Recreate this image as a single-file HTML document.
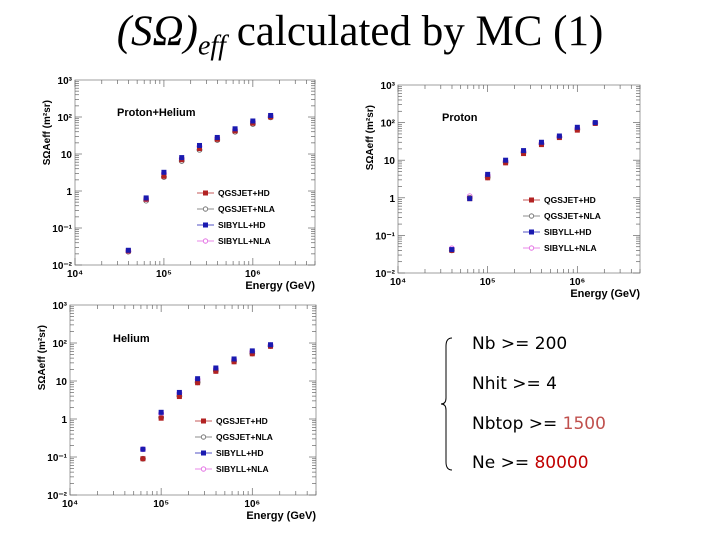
<!DOCTYPE html>
<html><head><meta charset="utf-8"><style>
body{margin:0;background:#fff;width:720px;height:540px;overflow:hidden;position:relative;font-family:"Liberation Sans",sans-serif}
#title{position:absolute;left:0;width:720px;top:7px;text-align:center;font-family:"Liberation Serif",serif;font-size:43px;white-space:nowrap}
.cut{position:absolute;left:472px;font-size:17px;font-family:"DejaVu Sans","Liberation Sans",sans-serif}
</style></head><body>
<div id="title"><i>(SΩ)<sub style="font-size:28px">eff</sub></i> calculated by MC (1)</div>
<svg id="svg" width="720" height="540" style="position:absolute;left:0;top:0"></svg>
<svg width="720" height="540" style="position:absolute;left:0;top:0"><path d="M452 338 Q446 338 446 346 L446 398 Q446 404 441 404 Q446 404 446 410 L446 462 Q446 470 452 470" fill="none" stroke="#000" stroke-width="1"/></svg>
<div class="cut" style="top:334px">Nb &gt;= 200</div>
<div class="cut" style="top:374px">Nhit &gt;= 4</div>
<div class="cut" style="top:414px">Nbtop &gt;= <span style="color:#c0504d">1500</span></div>
<div class="cut" style="top:453px">Ne &gt;= <span style="color:#c00000">80000</span></div>
<script>
const seriesNames=["QGSJET+HD","QGSJET+NLA","SIBYLL+HD","SIBYLL+NLA"];
const yTickLabels=["10⁻²","10⁻¹","1","10","10²","10³"];
const phLogE=[4.6,4.8,5.0,5.2,5.4,5.6,5.8,6.0,6.2];
const phQH=[0.024,0.6,2.5,7,14,25,42,68,100];
const phQN=[0.023,0.55,2.4,6.5,13,24,40,65,98];
const phSH=[0.025,0.65,3.2,8,17,28,48,78,110];
const phSN=[0.024,0.6,3.0,7.5,16,27,45,74,105];
const pLogE=[4.6,4.8,5.0,5.2,5.4,5.6,5.8,6.0,6.2];
const pQH=[0.04,0.95,3.4,8.5,15,26,40,63,95];
const pQN=[0.04,1.0,3.5,8.8,16,27,41,65,97];
const pSH=[0.042,0.95,4.2,10,18,30,44,75,100];
const pSN=[0.045,1.1,4.0,9.5,17,28,42,70,98];
const hLogE=[4.8,5.0,5.2,5.4,5.6,5.8,6.0,6.2];
const hQH=[0.09,1.05,3.9,9,18,32,52,82];
const hQN=[0.09,1.1,4.0,9.2,18.5,33,53,83];
const hSH=[0.16,1.5,5,11.5,22,38,62,90];
const hSN=[0.16,1.4,4.8,11,21,37,60,88];
const svg=document.getElementById('svg');
const NS='http://www.w3.org/2000/svg';
function mk(t,a,txt){const e=document.createElementNS(NS,t);for(const k in a)e.setAttribute(k,a[k]);if(txt!=null)e.textContent=txt;svg.appendChild(e);return e;}
const colors=["#b22222","#666","#1a1ab0","#e060e0"];
function plot(cfg){
 const {L,R,T,B,label,lx,ly,data,logE,leg,id}=cfg;
 const xs=v=>L+(v-4)/(Math.log10(5e6)-4)*(R-L);
 const ys=v=>B-(Math.log10(v)+2)/5*(B-T);
 let e=mk('rect',{x:L,y:T,width:R-L,height:B-T,fill:'none',stroke:'#888','stroke-width':0.8});
 
 for(let d=4;d<7;d++)for(let m=1;m<10;m++){const v=d+Math.log10(m);if(v>Math.log10(5e6))break;const x=xs(v),h=m==1?7:4;
  mk('line',{x1:x,x2:x,y1:B,y2:B-h,stroke:'#666','stroke-width':0.7});mk('line',{x1:x,x2:x,y1:T,y2:T+h,stroke:'#666','stroke-width':0.7});}
 for(let d=-2;d<3;d++)for(let m=1;m<10;m++){const v=Math.pow(10,d)*m,y=ys(v),h=m==1?7:4;
  mk('line',{x1:L,x2:L+h,y1:y,y2:y,stroke:'#666','stroke-width':0.7});mk('line',{x1:R,x2:R-h,y1:y,y2:y,stroke:'#666','stroke-width':0.7});}
 yTickLabels.forEach((t,i)=>{e=mk('text',{x:L-3,y:ys(Math.pow(10,i-2))+4,'text-anchor':'end','font-size':10,'font-weight':'bold'},t);
  });
 ["10⁴","10⁵","10⁶"].forEach((t,i)=>{e=mk('text',{x:xs(4+i),y:B+12,'text-anchor':'middle','font-size':10,'font-weight':'bold'},t);
  });
 e=mk('text',{x:R,y:B+24,'text-anchor':'end','font-size':11,'font-weight':'bold'},'Energy (GeV)');
 
 e=mk('text',{x:0,y:0,transform:`translate(${L-25},${T+20}) rotate(-90)`,'text-anchor':'end','font-size':10,'font-weight':'bold'},'SΩAeff (m²sr)');
 
 e=mk('text',{x:lx,y:ly,'font-size':11,'font-weight':'bold'},label);
 
 [1,3,0,2].forEach(s=>{data[s].forEach((v,i)=>{const x=xs(logE[i]),y=ys(v);
  if(s%2==0){e=mk('rect',{x:x-2.5,y:y-2.5,width:5,height:5,fill:colors[s]});}
  else{e=mk('circle',{cx:x,cy:y,r:2.5,fill:'none',stroke:colors[s],'stroke-width':0.8});}
  });});
 seriesNames.forEach((n,s)=>{const y=leg[1]+s*16;
  mk('line',{x1:leg[0],x2:leg[0]+17,y1:y,y2:y,stroke:colors[s],'stroke-width':0.8});
  if(s%2==0)mk('rect',{x:leg[0]+6,y:y-2.5,width:5,height:5,fill:colors[s]});else mk('circle',{cx:leg[0]+8.5,cy:y,r:2.2,fill:'#fff',stroke:colors[s],'stroke-width':0.8});
  e=mk('text',{x:leg[0]+21,y:y+3,'font-size':8.5,'font-weight':'bold'},n);
  });
}
plot({id:'proton-helium',L:75,R:315,T:80,B:265,label:'Proton+Helium',lx:117,ly:116,data:[phQH,phQN,phSH,phSN],logE:phLogE,leg:[197,193]});
plot({id:'proton',L:398,R:640,T:85,B:273,label:'Proton',lx:442,ly:121,data:[pQH,pQN,pSH,pSN],logE:pLogE,leg:[523,200]});
plot({id:'helium',L:70,R:316,T:305,B:495,label:'Helium',lx:113,ly:342,data:[hQH,hQN,hSH,hSN],logE:hLogE,leg:[195,421]});
</script>
</body></html>
